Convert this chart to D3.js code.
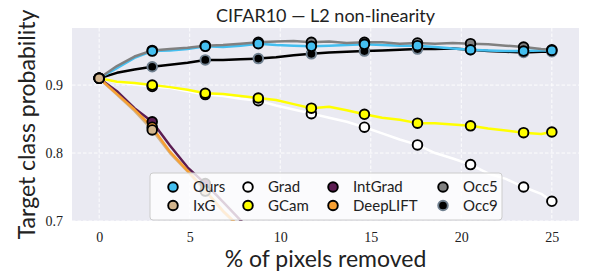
<!DOCTYPE html>
<html><head><meta charset="utf-8">
<script src="https://cdn.jsdelivr.net/npm/d3@7"></script>
<style>body{margin:0;background:#fff}svg{display:block}</style>
</head><body>
<script>
const xs = [0, 0.98, 1.95, 2.93, 3.91, 4.88, 5.86, 6.84, 7.81, 8.79, 9.77, 10.74, 11.72, 12.70, 13.67, 14.65, 15.63, 16.60, 17.58, 18.55, 19.53, 20.51, 21.48, 22.46, 23.44, 24.41, 25];
const markerIdx = [0, 3, 6, 9, 12, 15, 18, 21, 24, 26];
const ours    = [0.910, 0.925, 0.940, 0.950, 0.951, 0.953, 0.957, 0.956, 0.958, 0.961, 0.959, 0.958, 0.957, 0.958, 0.959, 0.960, 0.959, 0.958, 0.958, 0.956, 0.954, 0.952, 0.951, 0.950, 0.950, 0.951, 0.951];
const ixg     = [0.910, 0.886, 0.862, 0.834, 0.800, 0.773, 0.744, 0.714, 0.689, null, null, null, null, null, null, null, null, null, null, null, null, null, null, null, null, null, null];
const grad    = [0.910, 0.904, 0.901, 0.898, 0.896, 0.891, 0.886, 0.884, 0.880, 0.877, 0.870, 0.864, 0.858, 0.852, 0.846, 0.838, 0.829, 0.820, 0.812, 0.800, 0.792, 0.783, 0.770, 0.762, 0.750, 0.740, 0.729];
const gcam    = [0.910, 0.905, 0.903, 0.900, 0.897, 0.893, 0.888, 0.887, 0.884, 0.881, 0.878, 0.872, 0.866, 0.868, 0.863, 0.857, 0.852, 0.849, 0.844, 0.844, 0.842, 0.840, 0.836, 0.833, 0.830, 0.828, 0.831];
const intgrad = [0.910, 0.891, 0.866, 0.846, 0.811, 0.779, 0.755, 0.728, 0.701, 0.675, null, null, null, null, null, null, null, null, null, null, null, null, null, null, null, null, null];
const deeplift= [0.910, 0.887, 0.864, 0.838, 0.802, 0.774, 0.745, 0.715, 0.690, null, null, null, null, null, null, null, null, null, null, null, null, null, null, null, null, null, null];
const occ5    = [0.910, 0.928, 0.942, 0.951, 0.953, 0.955, 0.958, 0.959, 0.961, 0.963, 0.964, 0.965, 0.963, 0.964, 0.962, 0.963, 0.963, 0.961, 0.962, 0.961, 0.962, 0.961, 0.960, 0.958, 0.956, 0.953, 0.952];
const occ9    = [0.910, 0.918, 0.923, 0.927, 0.930, 0.933, 0.937, 0.937, 0.938, 0.939, 0.941, 0.944, 0.946, 0.948, 0.949, 0.950, 0.951, 0.952, 0.953, 0.953, 0.954, 0.952, 0.950, 0.949, 0.948, 0.949, 0.949];
const xTicks = [0, 5, 10, 15, 20, 25];
const yTicks = [0.7, 0.8, 0.9];
const titleText = "CIFAR10 — L2 non-linearity";
const xLabel = "% of pixels removed";
const yLabel = "Target class probability";

const series = [
  {name:"Ours", v:ours, line:"#44bff0", fill:"#44bff0", edge:"#000"},
  {name:"IxG", v:ixg, line:"#d2b48c", fill:"#d2b48c", edge:"#000"},
  {name:"Grad", v:grad, line:"#ffffff", fill:"#ffffff", edge:"#000"},
  {name:"GCam", v:gcam, line:"#ffff00", fill:"#ffff00", edge:"#000"},
  {name:"IntGrad", v:intgrad, line:"#5c1d52", fill:"#5c1d52", edge:"#000"},
  {name:"DeepLIFT", v:deeplift, line:"#f7a033", fill:"#f7a033", edge:"#000"},
  {name:"Occ5", v:occ5, line:"#808080", fill:"#808080", edge:"#000"},
  {name:"Occ9", v:occ9, line:"#000000", fill:"#000000", edge:"#708090"}
];
const byName = Object.fromEntries(series.map(s=>[s.name,s]));
const lineOrder = ["IxG","Grad","GCam","IntGrad","DeepLIFT","Occ9","Ours","Occ5"];
const markOrder = ["Grad","GCam","IntGrad","DeepLIFT","Occ9","Occ5","Ours","IxG"];

const W=598,H=279, L=72, R=579, T=28, B=221;
const x = d3.scaleLinear().domain([-1.5, 26.5]).range([L,R]);
const y = d3.scaleLinear().domain([0.7, 0.984]).range([B,T]);

const svg = d3.select("body").append("svg").attr("width",W).attr("height",H);
svg.append("defs").append("clipPath").attr("id","clip").append("rect")
  .attr("x",L).attr("y",T).attr("width",R-L).attr("height",B-T);
svg.append("rect").attr("x",L).attr("y",T).attr("width",R-L).attr("height",B-T).attr("fill","#eaeaf2");

const g = svg.append("g");
g.selectAll(".gx").data(xTicks).join("line")
  .attr("x1",d=>x(d)).attr("x2",d=>x(d)).attr("y1",T).attr("y2",B)
  .attr("stroke","#fff").attr("stroke-width",0.9).attr("stroke-dasharray","3.5,2");
g.selectAll(".gy").data(yTicks).join("line")
  .attr("x1",L).attr("x2",R).attr("y1",d=>y(d)).attr("y2",d=>y(d))
  .attr("stroke","#fff").attr("stroke-width",0.9).attr("stroke-dasharray","3.5,2");

const xAxis = svg.append("g").attr("transform",`translate(0,${B})`)
  .call(d3.axisBottom(x).tickValues(xTicks).tickSize(0).tickPadding(11).tickFormat(d3.format("d")));
const yAxis = svg.append("g").attr("transform",`translate(${L},0)`)
  .call(d3.axisLeft(y).tickValues(yTicks).tickSize(0).tickPadding(9).tickFormat(d3.format(".1f")));
[xAxis,yAxis].forEach(a=>{a.select(".domain").remove();
  a.selectAll("text").attr("font-family","'Liberation Serif', serif").attr("font-size",14).attr("fill","#222");});

const plot = svg.append("g").attr("clip-path","url(#clip)");
const lineGen = d3.line().defined(d=>d[1]!=null).x(d=>x(d[0])).y(d=>y(d[1]));
lineOrder.forEach(n=>{
  const s=byName[n];
  plot.append("path").datum(xs.map((xv,i)=>[xv,s.v[i]]))
    .attr("d",lineGen).attr("fill","none").attr("stroke",s.line)
    .attr("stroke-width",2.5).attr("stroke-linejoin","round");
});
markOrder.forEach(n=>{
  const s=byName[n];
  const pts = markerIdx.map(i=>[xs[i],s.v[i]]).filter(d=>d[1]!=null && d[1]>=0.7);
  plot.selectAll(null).data(pts).join("circle")
    .attr("cx",d=>x(d[0])).attr("cy",d=>y(d[1])).attr("r",4.8)
    .attr("fill",s.fill).attr("stroke",s.edge).attr("stroke-width",1.9);
});

svg.append("text").attr("x",(L+R)/2).attr("y",22).attr("text-anchor","middle")
  .attr("font-family","Lato, sans-serif").attr("font-size",18).attr("fill","#222").text(titleText);
svg.append("text").attr("x",(L+R)/2).attr("y",267).attr("text-anchor","middle")
  .attr("font-family","Lato, sans-serif").attr("font-size",23).attr("fill","#222").text(xLabel);
svg.append("text").attr("transform",`translate(35,${(T+B)/2}) rotate(-90)`).attr("text-anchor","middle")
  .attr("font-family","Lato, sans-serif").attr("font-size",23).attr("fill","#222").text(yLabel);

// legend
const leg = svg.append("g");
leg.append("rect").attr("x",150).attr("y",173).attr("width",352).attr("height",47).attr("rx",3)
  .attr("fill","#fff").attr("fill-opacity",0.8).attr("stroke","#cccccc").attr("stroke-width",1);
const legOrder = ["Ours","IxG","Grad","GCam","IntGrad","DeepLIFT","Occ5","Occ9"];
const colX = [173, 248, 333, 443];
const rowY = [187, 205.5];
legOrder.forEach((n,i)=>{
  const s=byName[n], c=Math.floor(i/2), r=i%2;
  leg.append("circle").attr("cx",colX[c]).attr("cy",rowY[r]).attr("r",4.8)
    .attr("fill",s.fill).attr("stroke",s.edge).attr("stroke-width",1.9);
  leg.append("text").attr("x",colX[c]+20).attr("y",rowY[r]+5).attr("font-family","Lato, sans-serif")
    .attr("font-size",15).attr("fill","#222").text(n);
});
</script>
</body></html>
